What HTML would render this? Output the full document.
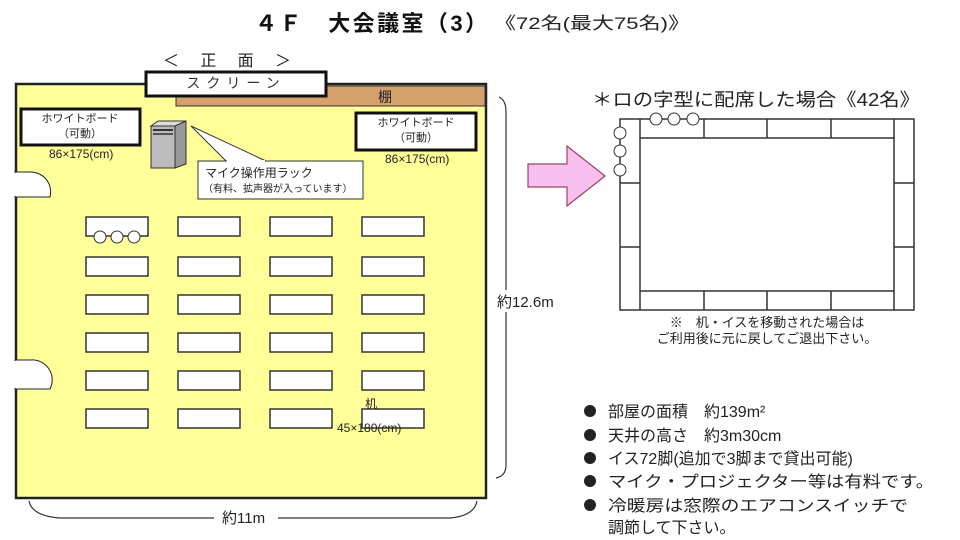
<!DOCTYPE html>
<html><head><meta charset="utf-8"><style>
html,body{margin:0;padding:0;background:#fff;}
svg{display:block;font-family:"Liberation Sans","Noto Sans CJK JP",sans-serif;}
</style></head><body>
<svg width="960" height="540" viewBox="0 0 960 540" xmlns="http://www.w3.org/2000/svg">
<!-- title -->
<text x="255" y="31" font-size="22" font-weight="bold" fill="#111" textLength="232" lengthAdjust="spacing">４Ｆ　大会議室（3）</text>
<text x="494" y="29" font-size="17" fill="#222" textLength="196" lengthAdjust="spacingAndGlyphs">《72名(最大75名)》</text>
<text x="163" y="66" font-size="16" fill="#222" textLength="128" lengthAdjust="spacing">＜ 正 面 ＞</text>

<!-- room -->
<rect x="16" y="84" width="470" height="414" fill="#ffff99" stroke="#222" stroke-width="2.5"/>
<rect x="176" y="86" width="309" height="20" fill="#d4a06c" stroke="#333" stroke-width="1"/>
<text x="378" y="102" font-size="14" fill="#222">棚</text>
<rect x="146" y="72" width="180" height="24" fill="#fff" stroke="#111" stroke-width="3"/>
<text x="236" y="88" font-size="14" text-anchor="middle" fill="#333" letter-spacing="6">スクリーン</text>

<!-- doors -->
<path d="M15,172 L30,172 A20,20 0 0 1 50,197 L15,197 Z" fill="#fff" stroke="#222" stroke-width="1"/>
<path d="M15,360 L30,360 A20,20 0 0 1 50,389 L15,389 Z" fill="#fff" stroke="#222" stroke-width="1"/>
<rect x="12" y="173" width="4" height="23" fill="#fff"/>
<rect x="12" y="361" width="4" height="27" fill="#fff"/>

<!-- whiteboards -->
<rect x="21" y="109" width="119" height="36" fill="#fff" stroke="#111" stroke-width="3"/>
<text x="80" y="122" font-size="11" text-anchor="middle" fill="#222">ホワイトボード</text>
<text x="80" y="137" font-size="11" text-anchor="middle" fill="#222">（可動）</text>
<text x="49" y="158" font-size="12" fill="#222">86×175(cm)</text>
<rect x="356" y="113" width="120" height="37" fill="#fff" stroke="#111" stroke-width="3"/>
<text x="416" y="126" font-size="11" text-anchor="middle" fill="#222">ホワイトボード</text>
<text x="416" y="141" font-size="11" text-anchor="middle" fill="#222">（可動）</text>
<text x="385" y="163" font-size="12" fill="#222">86×175(cm)</text>

<!-- rack -->
<path d="M151,126 L158,121 L186,121 L175,126 Z" fill="#ddd" stroke="#333"/>
<path d="M175,126 L186,121 L186,164 L175,168 Z" fill="#999" stroke="#333"/>
<rect x="151" y="126" width="24" height="42" fill="#bbb" stroke="#333"/>
<line x1="153" y1="130" x2="173" y2="130" stroke="#333" stroke-width="2"/>
<line x1="153" y1="134" x2="173" y2="134" stroke="#333" stroke-width="1.5"/>
<!-- callout -->
<path d="M226,161 L191,126 L266,161" fill="#fff" stroke="#333"/>
<rect x="198" y="161" width="165" height="38" fill="#fff" stroke="#333"/>
<line x1="227" y1="161" x2="265" y2="161" stroke="#fff" stroke-width="2"/>
<text x="205" y="177" font-size="12" fill="#222">マイク操作用ラック</text>
<text x="203" y="192" font-size="10" fill="#222">（有料、拡声器が入っています）</text>

<!-- tables -->
<g fill="#fff" stroke="#333" stroke-width="1.5">
<rect x="86" y="217" width="62" height="19"/><rect x="178" y="217" width="62" height="19"/><rect x="270" y="217" width="62" height="19"/><rect x="362" y="217" width="62" height="19"/>
<rect x="86" y="257" width="62" height="19"/><rect x="178" y="257" width="62" height="19"/><rect x="270" y="257" width="62" height="19"/><rect x="362" y="257" width="62" height="19"/>
<rect x="86" y="295" width="62" height="19"/><rect x="178" y="295" width="62" height="19"/><rect x="270" y="295" width="62" height="19"/><rect x="362" y="295" width="62" height="19"/>
<rect x="86" y="333" width="62" height="19"/><rect x="178" y="333" width="62" height="19"/><rect x="270" y="333" width="62" height="19"/><rect x="362" y="333" width="62" height="19"/>
<rect x="86" y="371" width="62" height="19"/><rect x="178" y="371" width="62" height="19"/><rect x="270" y="371" width="62" height="19"/><rect x="362" y="371" width="62" height="19"/>
<rect x="86" y="409" width="62" height="19"/><rect x="178" y="409" width="62" height="19"/><rect x="270" y="409" width="62" height="19"/><rect x="362" y="409" width="62" height="19"/>
</g>
<g fill="#fff" stroke="#333" stroke-width="1">
<circle cx="100" cy="237" r="6"/><circle cx="117" cy="237" r="6"/><circle cx="134" cy="237" r="6"/>
</g>
<text x="365" y="408" font-size="12" fill="#222">机</text>
<text x="337" y="432" font-size="12" fill="#222">45×180(cm)</text>

<!-- dimension brackets -->
<path d="M499,97 Q506,100 506,112 L506,465 Q506,476 496,478" fill="none" stroke="#333" stroke-width="1.2"/>
<rect x="496" y="290" width="66" height="22" fill="#fff"/>
<text x="497" y="307" font-size="15" fill="#222">約12.6m</text>
<path d="M29,501 Q32,516 60,518 L450,518 Q474,516 477,501" fill="none" stroke="#333" stroke-width="1.2"/>
<rect x="214" y="506" width="64" height="22" fill="#fff"/>
<text x="222" y="523" font-size="15" fill="#222">約11m</text>

<!-- arrow -->
<path d="M528,164 L567,164 L567,146 L605,176 L567,206 L567,187 L528,187 Z" fill="#f8c0f0" stroke="#a04060" stroke-width="1.2"/>

<!-- right diagram -->
<text x="592" y="106" font-size="18" fill="#222" textLength="328" lengthAdjust="spacingAndGlyphs">＊ロの字型に配席した場合《42名》</text>
<g fill="#fff" stroke="#333" stroke-width="1.5">
<rect x="620" y="119" width="294" height="191"/>
<rect x="640" y="138" width="254" height="153"/>
</g>
<g stroke="#333" stroke-width="1.5">
<line x1="704" y1="119" x2="704" y2="138"/><line x1="767" y1="119" x2="767" y2="138"/><line x1="831" y1="119" x2="831" y2="138"/>
<line x1="704" y1="291" x2="704" y2="310"/><line x1="767" y1="291" x2="767" y2="310"/><line x1="831" y1="291" x2="831" y2="310"/>
<line x1="620" y1="183" x2="640" y2="183"/><line x1="620" y1="247" x2="640" y2="247"/>
<line x1="894" y1="183" x2="914" y2="183"/><line x1="894" y1="247" x2="914" y2="247"/>
<line x1="640" y1="119" x2="640" y2="138"/><line x1="894" y1="119" x2="894" y2="138"/>
<line x1="640" y1="291" x2="640" y2="310"/><line x1="894" y1="291" x2="894" y2="310"/>
</g>
<g fill="#fff" stroke="#333" stroke-width="1">
<circle cx="656" cy="119" r="6"/><circle cx="674" cy="119" r="6"/><circle cx="693" cy="119" r="6"/>
<circle cx="620" cy="133" r="6"/><circle cx="620" cy="151" r="6"/><circle cx="620" cy="170" r="6"/>
</g>
<text x="767" y="327" font-size="13" text-anchor="middle" fill="#222">※　机・イスを移動された場合は</text>
<text x="767" y="343" font-size="13" text-anchor="middle" fill="#222">ご利用後に元に戻してご退出下さい。</text>

<!-- bullets -->
<g font-size="16" fill="#222">
<circle cx="590" cy="411" r="6"/><text x="608" y="417">部屋の面積　約139m²</text>
<circle cx="590" cy="435" r="6"/><text x="608" y="441">天井の高さ　約3m30cm</text>
<circle cx="590" cy="458" r="6"/><text x="608" y="464">イス72脚(追加で3脚まで貸出可能)</text>
<circle cx="590" cy="481" r="6"/><text x="608" y="487" textLength="326" lengthAdjust="spacingAndGlyphs">マイク・プロジェクター等は有料です。</text>
<circle cx="590" cy="505" r="6"/><text x="608" y="511" textLength="300" lengthAdjust="spacingAndGlyphs">冷暖房は窓際のエアコンスイッチで</text>
<text x="608" y="533">調節して下さい。</text>
</g>
</svg>
</body></html>
